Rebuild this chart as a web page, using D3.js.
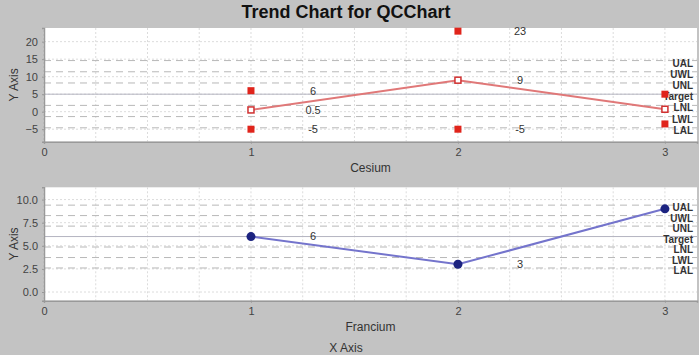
<!DOCTYPE html>
<html><head><meta charset="utf-8">
<script src="https://cdn.jsdelivr.net/npm/d3@7"></script>
<style>
body{margin:0;background:#c3c3c3;}
svg{display:block;font-family:"Liberation Sans",Arial,sans-serif;}
</style></head>
<body><svg id="c" width="699" height="355"></svg>
<script>
// ---- data ----
const xTicks = [0, 1, 2, 3];
const limitNames = ["UAL", "UWL", "UNL", "Target", "LNL", "LWL", "LAL"];
// chart 1 (Cesium)
const cesiumX = [1, 2, 3];
const cesiumMax = [6, 23, 5];
const cesiumMean = [0.5, 9, 0.7];
const cesiumMin = [-5, -5, -3.5];
const cesiumLimits = [14.6, 11.4, 8.2, 5, 1.8, -1.4, -4.6];
const cesiumYTicks = [-5, 0, 5, 10, 15, 20];
// chart 2 (Francium)
const franciumX = [1, 2, 3];
const franciumVal = [6, 3, 9];
const franciumLimits = [9.4, 8.27, 7.13, 6, 4.87, 3.73, 2.6];
const franciumYTicks = [0, 2.5, 5, 7.5, 10];

const svg = d3.select("#c");
svg.append("text").attr("x", 346).attr("y", 18).attr("text-anchor", "middle")
  .attr("font-size", 18).attr("font-weight", "bold").attr("fill", "#111")
  .text("Trend Chart for QCChart");

function panel(o) {
  const x = d3.scaleLinear().domain([0, 3.155]).range([44, 697]);
  const y = d3.scaleLinear().domain(o.yDomain).range([o.bottom, o.top]);
  const g = svg.append("g");
  g.append("rect").attr("x", 44).attr("y", o.top).attr("width", 653).attr("height", o.bottom - o.top).attr("fill", "#fff");
  // vertical grid every 0.25
  const vg = d3.range(0, 3.16, 0.25);
  g.selectAll(".vg").data(vg).join("line")
    .attr("x1", d => x(d)).attr("x2", d => x(d)).attr("y1", o.top).attr("y2", o.bottom)
    .attr("stroke", "#dcdcdc").attr("stroke-dasharray", "2,2");
  g.selectAll(".hg").data(o.yTicks).join("line")
    .attr("x1", 44).attr("x2", 697).attr("y1", d => y(d)).attr("y2", d => y(d))
    .attr("stroke", "#dcdcdc").attr("stroke-dasharray", "2,2");
  // limit lines
  g.selectAll(".lim").data(o.limits).join("line")
    .attr("x1", 44).attr("x2", 697).attr("y1", d => y(d)).attr("y2", d => y(d))
    .attr("stroke", (d, i) => i === 3 ? "#b4b4c0" : "#b8b8b8")
    .attr("stroke-width", 1)
    .attr("stroke-dasharray", (d, i) => i === 3 ? null : "7,5");
  g.selectAll(".limt").data(o.limits).join("text")
    .attr("x", 693).attr("y", d => y(d) + 2.5).attr("dy", "0.35em")
    .attr("text-anchor", "end").attr("font-size", 10).attr("font-weight", "bold")
    .attr("fill", "#333").text((d, i) => limitNames[i]);
  // axes
  const ya = g.append("g").attr("transform", "translate(44,0)")
    .call(d3.axisLeft(y).tickValues(o.yTicks).tickFormat(o.fmt).tickSize(2).tickPadding(4));
  const xa = g.append("g").attr("transform", `translate(0,${o.bottom})`)
    .call(d3.axisBottom(x).tickValues(xTicks).tickFormat(d3.format("d")).tickSize(2).tickPadding(5));
  [ya, xa].forEach(a => {
    a.select(".domain").attr("stroke", "#999").attr("stroke-width", 1.5);
    a.selectAll(".tick line").attr("stroke", "#999");
    a.selectAll("text").attr("font-size", 11).attr("fill", "#444").attr("font-family", "\"Liberation Sans\",Arial,sans-serif");
  });
  g.append("text").attr("x", 370.5).attr("y", o.bottom + 30).attr("text-anchor", "middle")
    .attr("font-size", 12).attr("fill", "#333").text(o.xTitle);
  g.append("text").attr("transform", `translate(18,${(o.top + o.bottom) / 2}) rotate(-90)`)
    .attr("text-anchor", "middle").attr("font-size", 12).attr("fill", "#333").text("Y Axis");
  return {x, y, g};
}

// Panel 1
const p1 = panel({top: 28, bottom: 141.7, yDomain: [-8.57, 23.9], yTicks: cesiumYTicks,
  fmt: d3.format("d"), limits: cesiumLimits, xTitle: "Cesium"});
const meanPts = cesiumX.map((d, i) => [d, cesiumMean[i]]);
p1.g.append("path").datum(meanPts)
  .attr("d", d3.line().x(d => p1.x(d[0])).y(d => p1.y(d[1])))
  .attr("fill", "none").attr("stroke", "#e07878").attr("stroke-width", 2);
const filled = cesiumX.flatMap((d, i) => [[d, cesiumMax[i]], [d, cesiumMin[i]]]);
p1.g.selectAll(".fs").data(filled).join("rect")
  .attr("x", d => p1.x(d[0]) - 3.5).attr("y", d => p1.y(d[1]) - 3.5)
  .attr("width", 7).attr("height", 7).attr("fill", "#e0241b");
p1.g.selectAll(".os").data(meanPts).join("rect")
  .attr("x", d => p1.x(d[0]) - 3).attr("y", d => p1.y(d[1]) - 3)
  .attr("width", 6).attr("height", 6).attr("fill", "#fff").attr("stroke", "#d03030").attr("stroke-width", 1.5);
const lab1 = filled.concat(meanPts).filter(d => d[0] + 0.3 < 3.155);
p1.g.selectAll(".vl").data(lab1).join("text")
  .attr("x", d => p1.x(d[0] + 0.3)).attr("y", d => p1.y(d[1])).attr("dy", "0.35em")
  .attr("text-anchor", "middle").attr("font-size", 11).attr("fill", "#333")
  .text(d => d[1]);

// Panel 2
const p2 = panel({top: 187.3, bottom: 300.7, yDomain: [-0.94, 11.33], yTicks: franciumYTicks,
  fmt: d3.format(".1f"), limits: franciumLimits, xTitle: "Francium"});
const fPts = franciumX.map((d, i) => [d, franciumVal[i]]);
p2.g.append("path").datum(fPts)
  .attr("d", d3.line().x(d => p2.x(d[0])).y(d => p2.y(d[1])))
  .attr("fill", "none").attr("stroke", "#7474cc").attr("stroke-width", 2);
p2.g.selectAll(".dot").data(fPts).join("circle")
  .attr("cx", d => p2.x(d[0])).attr("cy", d => p2.y(d[1])).attr("r", 4.5).attr("fill", "#1c2380");
p2.g.selectAll(".vl").data(fPts.filter(d => d[0] + 0.3 < 3.155)).join("text")
  .attr("x", d => p2.x(d[0] + 0.3)).attr("y", d => p2.y(d[1])).attr("dy", "0.35em")
  .attr("text-anchor", "middle").attr("font-size", 11).attr("fill", "#333")
  .text(d => d[1]);

svg.append("text").attr("x", 346).attr("y", 352).attr("text-anchor", "middle")
  .attr("font-size", 12).attr("fill", "#333").text("X Axis");
</script></body></html>
